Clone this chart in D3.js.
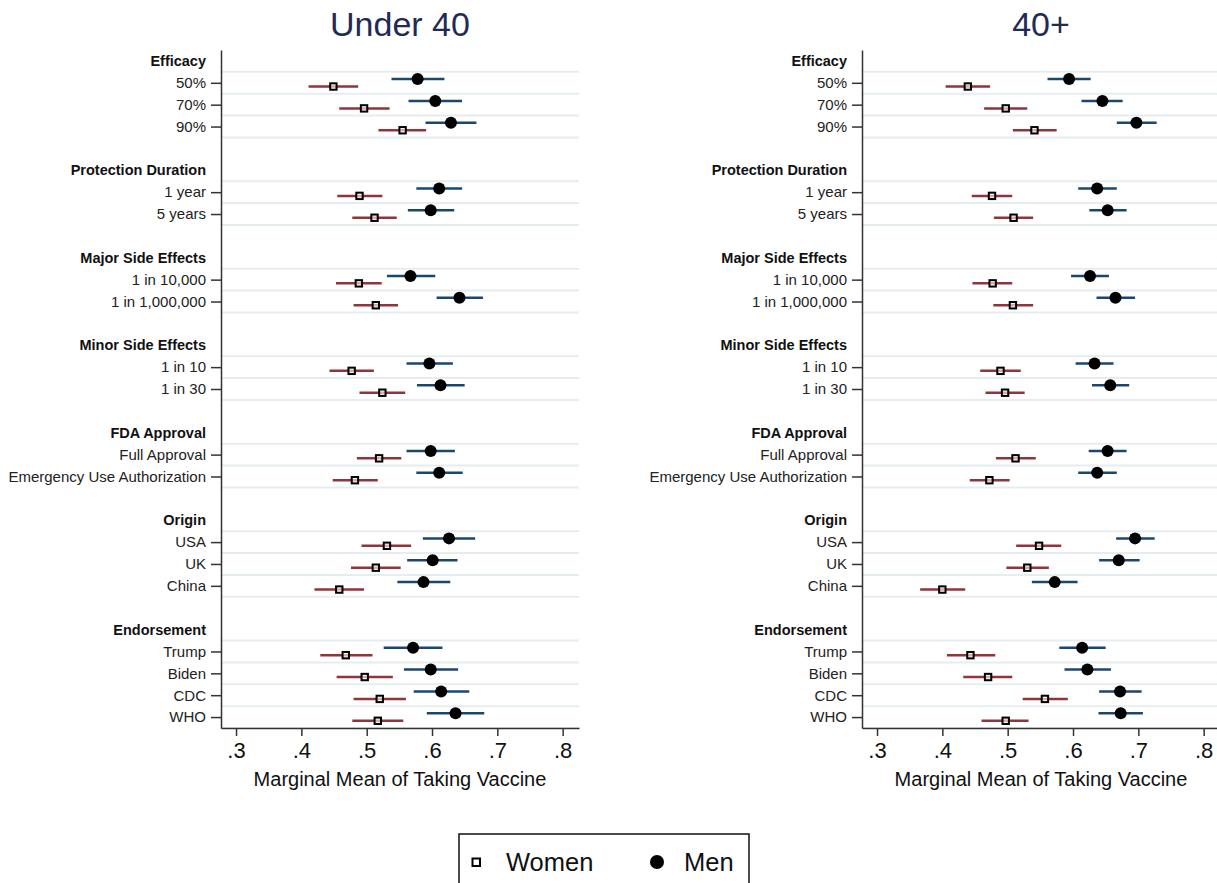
<!DOCTYPE html>
<html>
<head>
<meta charset="utf-8">
<script src="https://cdn.jsdelivr.net/npm/d3@7"></script>
<style>
  body { margin: 0; background: #fff; }
  svg { display: block; font-family: "Liberation Sans", Arial, sans-serif; }
</style>
</head>
<body>
<div id="chart"></div>
<script>
// attribute headers and their levels, top to bottom
const attributes = ["Efficacy", "Protection Duration", "Major Side Effects", "Minor Side Effects",
    "FDA Approval", "Origin", "Endorsement"];
const levels = [
    ["50%", "70%", "90%"],
    ["1 year", "5 years"],
    ["1 in 10,000", "1 in 1,000,000"],
    ["1 in 10", "1 in 30"],
    ["Full Approval", "Emergency Use Authorization"],
    ["USA", "UK", "China"],
    ["Trump", "Biden", "CDC", "WHO"]
];
const panels = ["Under 40", "40+"];
const xTicks = [0.3, 0.4, 0.5, 0.6, 0.7, 0.8];

// Under 40
const menU40 = [0.578, 0.605, 0.629, 0.611, 0.598, 0.567, 0.642, 0.596, 0.613, 0.598, 0.611, 0.626, 0.601, 0.587, 0.571, 0.598, 0.614, 0.636];
const menU40Lo = [0.538, 0.564, 0.590, 0.576, 0.563, 0.531, 0.607, 0.561, 0.577, 0.561, 0.576, 0.586, 0.562, 0.547, 0.526, 0.557, 0.572, 0.592];
const menU40Hi = [0.619, 0.646, 0.668, 0.646, 0.634, 0.605, 0.678, 0.632, 0.650, 0.635, 0.647, 0.666, 0.639, 0.628, 0.616, 0.640, 0.657, 0.680];
const womenU40 = [0.449, 0.496, 0.555, 0.489, 0.512, 0.488, 0.514, 0.477, 0.524, 0.519, 0.482, 0.531, 0.514, 0.458, 0.468, 0.497, 0.520, 0.517];
const womenU40Lo = [0.411, 0.458, 0.518, 0.455, 0.478, 0.453, 0.480, 0.443, 0.489, 0.485, 0.448, 0.492, 0.476, 0.420, 0.429, 0.454, 0.480, 0.478];
const womenU40Hi = [0.487, 0.535, 0.591, 0.524, 0.546, 0.523, 0.548, 0.511, 0.559, 0.553, 0.517, 0.568, 0.552, 0.496, 0.509, 0.540, 0.560, 0.556];

// 40+
const men40 = [0.594, 0.645, 0.697, 0.637, 0.653, 0.626, 0.665, 0.633, 0.657, 0.653, 0.637, 0.695, 0.670, 0.572, 0.614, 0.622, 0.672, 0.673];
const men40Lo = [0.561, 0.613, 0.667, 0.608, 0.625, 0.597, 0.636, 0.604, 0.629, 0.624, 0.608, 0.666, 0.640, 0.537, 0.579, 0.587, 0.640, 0.639];
const men40Hi = [0.627, 0.676, 0.728, 0.667, 0.682, 0.655, 0.695, 0.662, 0.686, 0.682, 0.667, 0.725, 0.702, 0.607, 0.650, 0.658, 0.705, 0.707];
const women40 = [0.439, 0.497, 0.541, 0.476, 0.509, 0.477, 0.508, 0.489, 0.496, 0.512, 0.472, 0.548, 0.530, 0.400, 0.443, 0.470, 0.557, 0.497];
const women40Lo = [0.405, 0.464, 0.508, 0.445, 0.479, 0.446, 0.478, 0.458, 0.466, 0.482, 0.442, 0.513, 0.498, 0.366, 0.407, 0.432, 0.523, 0.460];
const women40Hi = [0.473, 0.530, 0.575, 0.507, 0.539, 0.507, 0.539, 0.520, 0.526, 0.543, 0.503, 0.582, 0.563, 0.435, 0.481, 0.507, 0.592, 0.532];

const W = 1217, H = 883;
const menColor = "#1a476f", womenColor = "#90353b", gridColor = "#e6edf1", axisColor = "#333";

// build rows: header slot, then level slots, then a blank slot
let headerRows = [], levelRows = [];
let slot = 0;
attributes.forEach((a, ai) => {
    headerRows.push({ label: a, slot: slot });
    slot++;
    levels[ai].forEach(l => { levelRows.push({ label: l, slot: slot }); slot++; });
    slot++;
});
const lastSlot = slot - 2;

const svg = d3.select("#chart").append("svg").attr("width", W).attr("height", H);

const y = d3.scaleLinear().domain([-0.5, lastSlot + 0.5]).range([50, 728]);
const off = 0.17;

const panelData = [
    { men: menU40, menLo: menU40Lo, menHi: menU40Hi, women: womenU40, womenLo: womenU40Lo, womenHi: womenU40Hi },
    { men: men40, menLo: men40Lo, menHi: men40Hi, women: women40, womenLo: women40Lo, womenHi: women40Hi }
];
const panelLeft = [221, 862], panelW = 358;

panels.forEach((title, pi) => {
    const x0 = panelLeft[pi];
    const x = d3.scaleLinear().domain([0.277, 0.825]).range([x0, x0 + panelW]);
    const g = svg.append("g");
    const d = panelData[pi];

    // title
    svg.append("text")
        .attr("x", x0 + panelW / 2).attr("y", 36)
        .attr("text-anchor", "middle")
        .attr("font-size", 34)
        .attr("fill", "#1f2b55")
        .text(title);

    // light bands above and below each level row
    const bands = [];
    levelRows.forEach(r => { bands.push(r.slot - 0.5); bands.push(r.slot + 0.5); });
    g.selectAll("line.grid")
        .data(Array.from(new Set(bands)))
        .enter().append("line")
        .attr("x1", x0).attr("x2", x0 + panelW)
        .attr("y1", s => y(s)).attr("y2", s => y(s))
        .attr("stroke", gridColor).attr("stroke-width", 2);

    // header labels
    g.selectAll("text.head")
        .data(headerRows)
        .enter().append("text")
        .attr("x", x0 - 15).attr("y", r => y(r.slot))
        .attr("dy", "0.35em")
        .attr("text-anchor", "end")
        .attr("font-size", 14.5).attr("font-weight", "bold")
        .attr("fill", "#111")
        .text(r => r.label);

    // y axis
    const yAxis = d3.axisLeft(y)
        .tickValues(levelRows.map(r => r.slot))
        .tickFormat((s, i) => levelRows[i].label)
        .tickSize(10).tickSizeOuter(0).tickPadding(5);
    const ya = svg.append("g").attr("transform", `translate(${x0},0)`).call(yAxis);
    ya.select(".domain").attr("stroke", axisColor).attr("stroke-width", 1.5);
    ya.selectAll(".tick line").attr("stroke", axisColor).attr("stroke-width", 1.5);
    ya.selectAll(".tick text").attr("font-size", 15).attr("fill", "#222")
        .attr("font-family", "Liberation Sans, Arial, sans-serif");

    // x axis
    const xAxis = d3.axisBottom(x)
        .tickValues(xTicks)
        .tickFormat(v => d3.format(".1f")(v).replace(/^0/, ""))
        .tickSize(8).tickSizeOuter(0).tickPadding(6);
    const xa = svg.append("g").attr("transform", "translate(0,728)").call(xAxis);
    xa.select(".domain").attr("stroke", axisColor).attr("stroke-width", 1.5);
    xa.selectAll(".tick line").attr("stroke", axisColor).attr("stroke-width", 1.5);
    xa.selectAll(".tick text").attr("font-size", 22).attr("fill", "#111")
        .attr("font-family", "Liberation Sans, Arial, sans-serif");

    svg.append("text")
        .attr("x", x0 + panelW / 2).attr("y", 786)
        .attr("text-anchor", "middle")
        .attr("font-size", 20).attr("fill", "#111")
        .text("Marginal Mean of Taking Vaccine");

    // CI lines
    g.selectAll("line.menci")
        .data(levelRows)
        .enter().append("line")
        .attr("x1", (r, i) => x(d.menLo[i])).attr("x2", (r, i) => x(d.menHi[i]))
        .attr("y1", r => y(r.slot - off)).attr("y2", r => y(r.slot - off))
        .attr("stroke", menColor).attr("stroke-width", 2.5);
    g.selectAll("line.womenci")
        .data(levelRows)
        .enter().append("line")
        .attr("x1", (r, i) => x(d.womenLo[i])).attr("x2", (r, i) => x(d.womenHi[i]))
        .attr("y1", r => y(r.slot + off)).attr("y2", r => y(r.slot + off))
        .attr("stroke", womenColor).attr("stroke-width", 2.5);

    // points
    g.selectAll("circle.men")
        .data(levelRows)
        .enter().append("circle")
        .attr("cx", (r, i) => x(d.men[i])).attr("cy", r => y(r.slot - off))
        .attr("r", 6).attr("fill", "#000");
    g.selectAll("rect.women")
        .data(levelRows)
        .enter().append("rect")
        .attr("x", (r, i) => x(d.women[i]) - 3.2).attr("y", r => y(r.slot + off) - 3.2)
        .attr("width", 6.4).attr("height", 6.4)
        .attr("fill", "#fff").attr("fill-opacity", 0.6)
        .attr("stroke", "#000").attr("stroke-width", 2);
});

// legend
const lg = svg.append("g");
lg.append("rect")
    .attr("x", 459).attr("y", 834).attr("width", 290).attr("height", 70)
    .attr("fill", "#fff").attr("stroke", "#111").attr("stroke-width", 1.5);
lg.append("rect")
    .attr("x", 472.5).attr("y", 858.5).attr("width", 7.5).attr("height", 7.5)
    .attr("fill", "#fff").attr("stroke", "#000").attr("stroke-width", 2);
lg.append("text")
    .attr("x", 506).attr("y", 871).attr("font-size", 25.5).attr("fill", "#111")
    .text("Women");
lg.append("circle")
    .attr("cx", 657).attr("cy", 862).attr("r", 7).attr("fill", "#000");
lg.append("text")
    .attr("x", 684).attr("y", 871).attr("font-size", 25.5).attr("fill", "#111")
    .text("Men");
</script>
</body>
</html>
